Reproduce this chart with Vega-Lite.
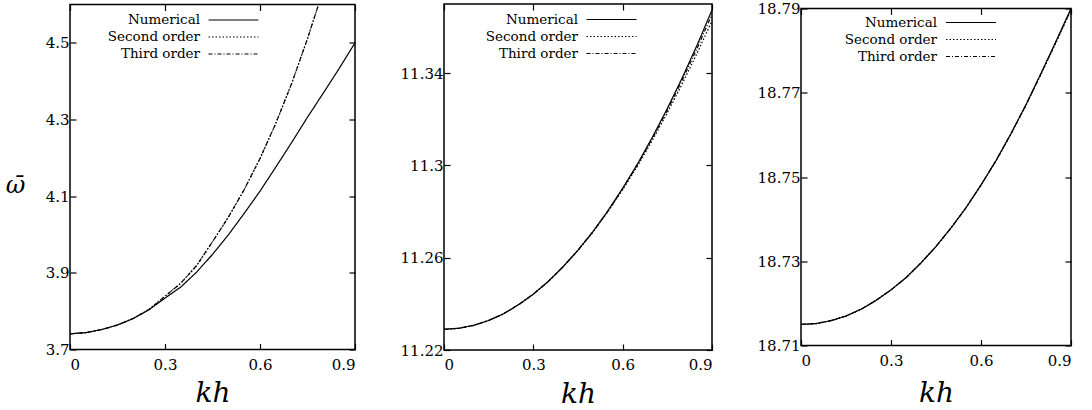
{
  "$schema": "https://vega.github.io/schema/vega-lite/v6.json",
  "background": "white",
  "padding": {"left": 4, "top": 0, "right": 5, "bottom": 2},
  "spacing": 89,
  "bounds": "flush",
  "center": true,
  "config": {
    "view": {"stroke": "black", "strokeWidth": 1.5},
    "font": "DejaVu Serif",
    "axis": {"grid": false, "domain": false, "tickColor": "black", "tickWidth": 1.2, "tickSize": -6, "labelFont": "DejaVu Serif", "labelFontSize": 15, "labelColor": "black", "titleColor": "black", "labelPadding": 13.5, "minExtent": 0},
    "legend": {"orient": "none", "legendY": 6.5, "title": null, "symbolType": "M-3.162,0H3.162", "symbolSize": 250, "symbolStrokeWidth": 1.2, "symbolStrokeColor": "black", "symbolFillColor": "transparent", "rowPadding": 1, "labelAlign": "right", "labelFont": "DejaVu Serif", "labelFontSize": 13.5, "labelColor": "black", "padding": 0, "labelLimit": 300},
    "line": {"strokeWidth": 1.2, "color": "black", "clip": true}
  },
  "resolve": {"scale": {"x": "independent", "y": "independent", "strokeDash": "independent"}, "legend": {"strokeDash": "independent"}},
  "datasets": {
    "p1": [
      {"series": "Numerical", "kh": 0, "omega": 3.741}, {"series": "Numerical", "kh": 0.05, "omega": 3.744}, {"series": "Numerical", "kh": 0.1, "omega": 3.752}, {"series": "Numerical", "kh": 0.15, "omega": 3.764}, {"series": "Numerical", "kh": 0.2, "omega": 3.781}, {"series": "Numerical", "kh": 0.25, "omega": 3.804}, {"series": "Numerical", "kh": 0.3, "omega": 3.834}, {"series": "Numerical", "kh": 0.35, "omega": 3.863}, {"series": "Numerical", "kh": 0.4, "omega": 3.902}, {"series": "Numerical", "kh": 0.45, "omega": 3.948}, {"series": "Numerical", "kh": 0.5, "omega": 3.999}, {"series": "Numerical", "kh": 0.55, "omega": 4.055}, {"series": "Numerical", "kh": 0.6, "omega": 4.113}, {"series": "Numerical", "kh": 0.65, "omega": 4.176}, {"series": "Numerical", "kh": 0.7, "omega": 4.240}, {"series": "Numerical", "kh": 0.75, "omega": 4.306}, {"series": "Numerical", "kh": 0.8, "omega": 4.369}, {"series": "Numerical", "kh": 0.85, "omega": 4.433}, {"series": "Numerical", "kh": 0.9, "omega": 4.500},
      {"series": "Second order", "kh": 0, "omega": 3.741}, {"series": "Second order", "kh": 0.05, "omega": 3.744}, {"series": "Second order", "kh": 0.1, "omega": 3.752}, {"series": "Second order", "kh": 0.15, "omega": 3.764}, {"series": "Second order", "kh": 0.2, "omega": 3.781}, {"series": "Second order", "kh": 0.25, "omega": 3.805}, {"series": "Second order", "kh": 0.3, "omega": 3.839}, {"series": "Second order", "kh": 0.35, "omega": 3.873}, {"series": "Second order", "kh": 0.4, "omega": 3.919}, {"series": "Second order", "kh": 0.45, "omega": 3.981}, {"series": "Second order", "kh": 0.5, "omega": 4.045}, {"series": "Second order", "kh": 0.55, "omega": 4.117}, {"series": "Second order", "kh": 0.6, "omega": 4.198}, {"series": "Second order", "kh": 0.65, "omega": 4.290}, {"series": "Second order", "kh": 0.7, "omega": 4.394}, {"series": "Second order", "kh": 0.75, "omega": 4.511}, {"series": "Second order", "kh": 0.785, "omega": 4.600},
      {"series": "Third order", "kh": 0, "omega": 3.741}, {"series": "Third order", "kh": 0.05, "omega": 3.744}, {"series": "Third order", "kh": 0.1, "omega": 3.752}, {"series": "Third order", "kh": 0.15, "omega": 3.764}, {"series": "Third order", "kh": 0.2, "omega": 3.781}, {"series": "Third order", "kh": 0.25, "omega": 3.805}, {"series": "Third order", "kh": 0.3, "omega": 3.839}, {"series": "Third order", "kh": 0.35, "omega": 3.873}, {"series": "Third order", "kh": 0.4, "omega": 3.919}, {"series": "Third order", "kh": 0.45, "omega": 3.981}, {"series": "Third order", "kh": 0.5, "omega": 4.045}, {"series": "Third order", "kh": 0.55, "omega": 4.117}, {"series": "Third order", "kh": 0.6, "omega": 4.198}, {"series": "Third order", "kh": 0.65, "omega": 4.290}, {"series": "Third order", "kh": 0.7, "omega": 4.394}, {"series": "Third order", "kh": 0.75, "omega": 4.511}, {"series": "Third order", "kh": 0.785, "omega": 4.600}
    ],
    "p2": [
      {"series": "Numerical", "kh": 0, "omega": 11.2290}, {"series": "Numerical", "kh": 0.05, "omega": 11.2294}, {"series": "Numerical", "kh": 0.1, "omega": 11.2307}, {"series": "Numerical", "kh": 0.15, "omega": 11.2328}, {"series": "Numerical", "kh": 0.2, "omega": 11.2357}, {"series": "Numerical", "kh": 0.25, "omega": 11.2396}, {"series": "Numerical", "kh": 0.3, "omega": 11.2442}, {"series": "Numerical", "kh": 0.35, "omega": 11.2497}, {"series": "Numerical", "kh": 0.4, "omega": 11.2561}, {"series": "Numerical", "kh": 0.45, "omega": 11.2633}, {"series": "Numerical", "kh": 0.5, "omega": 11.2713}, {"series": "Numerical", "kh": 0.55, "omega": 11.2803}, {"series": "Numerical", "kh": 0.6, "omega": 11.2901}, {"series": "Numerical", "kh": 0.65, "omega": 11.3007}, {"series": "Numerical", "kh": 0.7, "omega": 11.3123}, {"series": "Numerical", "kh": 0.75, "omega": 11.3247}, {"series": "Numerical", "kh": 0.8, "omega": 11.3380}, {"series": "Numerical", "kh": 0.85, "omega": 11.3522}, {"series": "Numerical", "kh": 0.9, "omega": 11.3674},
      {"series": "Second order", "kh": 0, "omega": 11.2290}, {"series": "Second order", "kh": 0.05, "omega": 11.2294}, {"series": "Second order", "kh": 0.1, "omega": 11.2307}, {"series": "Second order", "kh": 0.15, "omega": 11.2328}, {"series": "Second order", "kh": 0.2, "omega": 11.2357}, {"series": "Second order", "kh": 0.25, "omega": 11.2396}, {"series": "Second order", "kh": 0.3, "omega": 11.2442}, {"series": "Second order", "kh": 0.35, "omega": 11.2497}, {"series": "Second order", "kh": 0.4, "omega": 11.2561}, {"series": "Second order", "kh": 0.45, "omega": 11.2632}, {"series": "Second order", "kh": 0.5, "omega": 11.2710}, {"series": "Second order", "kh": 0.55, "omega": 11.2799}, {"series": "Second order", "kh": 0.6, "omega": 11.2895}, {"series": "Second order", "kh": 0.65, "omega": 11.2998}, {"series": "Second order", "kh": 0.7, "omega": 11.3110}, {"series": "Second order", "kh": 0.75, "omega": 11.3228}, {"series": "Second order", "kh": 0.8, "omega": 11.3354}, {"series": "Second order", "kh": 0.85, "omega": 11.3487}, {"series": "Second order", "kh": 0.9, "omega": 11.3627},
      {"series": "Third order", "kh": 0, "omega": 11.2290}, {"series": "Third order", "kh": 0.05, "omega": 11.2294}, {"series": "Third order", "kh": 0.1, "omega": 11.2307}, {"series": "Third order", "kh": 0.15, "omega": 11.2328}, {"series": "Third order", "kh": 0.2, "omega": 11.2357}, {"series": "Third order", "kh": 0.25, "omega": 11.2396}, {"series": "Third order", "kh": 0.3, "omega": 11.2442}, {"series": "Third order", "kh": 0.35, "omega": 11.2497}, {"series": "Third order", "kh": 0.4, "omega": 11.2561}, {"series": "Third order", "kh": 0.45, "omega": 11.2633}, {"series": "Third order", "kh": 0.5, "omega": 11.2712}, {"series": "Third order", "kh": 0.55, "omega": 11.2801}, {"series": "Third order", "kh": 0.6, "omega": 11.2899}, {"series": "Third order", "kh": 0.65, "omega": 11.3003}, {"series": "Third order", "kh": 0.7, "omega": 11.3118}, {"series": "Third order", "kh": 0.75, "omega": 11.3239}, {"series": "Third order", "kh": 0.8, "omega": 11.3370}, {"series": "Third order", "kh": 0.85, "omega": 11.3508}, {"series": "Third order", "kh": 0.9, "omega": 11.3655}
    ],
    "p3": [
      {"series": "Numerical", "kh": 0, "omega": 18.7150}, {"series": "Numerical", "kh": 0.05, "omega": 18.7152}, {"series": "Numerical", "kh": 0.1, "omega": 18.7159}, {"series": "Numerical", "kh": 0.15, "omega": 18.7170}, {"series": "Numerical", "kh": 0.2, "omega": 18.7186}, {"series": "Numerical", "kh": 0.25, "omega": 18.7207}, {"series": "Numerical", "kh": 0.3, "omega": 18.7232}, {"series": "Numerical", "kh": 0.35, "omega": 18.7261}, {"series": "Numerical", "kh": 0.4, "omega": 18.7296}, {"series": "Numerical", "kh": 0.45, "omega": 18.7335}, {"series": "Numerical", "kh": 0.5, "omega": 18.7379}, {"series": "Numerical", "kh": 0.55, "omega": 18.7427}, {"series": "Numerical", "kh": 0.6, "omega": 18.7481}, {"series": "Numerical", "kh": 0.65, "omega": 18.7539}, {"series": "Numerical", "kh": 0.7, "omega": 18.7603}, {"series": "Numerical", "kh": 0.75, "omega": 18.7672}, {"series": "Numerical", "kh": 0.8, "omega": 18.7746}, {"series": "Numerical", "kh": 0.85, "omega": 18.7822}, {"series": "Numerical", "kh": 0.9, "omega": 18.7900},
      {"series": "Second order", "kh": 0, "omega": 18.7150}, {"series": "Second order", "kh": 0.05, "omega": 18.7152}, {"series": "Second order", "kh": 0.1, "omega": 18.7159}, {"series": "Second order", "kh": 0.15, "omega": 18.7170}, {"series": "Second order", "kh": 0.2, "omega": 18.7186}, {"series": "Second order", "kh": 0.25, "omega": 18.7207}, {"series": "Second order", "kh": 0.3, "omega": 18.7232}, {"series": "Second order", "kh": 0.35, "omega": 18.7261}, {"series": "Second order", "kh": 0.4, "omega": 18.7296}, {"series": "Second order", "kh": 0.45, "omega": 18.7335}, {"series": "Second order", "kh": 0.5, "omega": 18.7379}, {"series": "Second order", "kh": 0.55, "omega": 18.7427}, {"series": "Second order", "kh": 0.6, "omega": 18.7481}, {"series": "Second order", "kh": 0.65, "omega": 18.7538}, {"series": "Second order", "kh": 0.7, "omega": 18.7602}, {"series": "Second order", "kh": 0.75, "omega": 18.7670}, {"series": "Second order", "kh": 0.8, "omega": 18.7744}, {"series": "Second order", "kh": 0.85, "omega": 18.7819}, {"series": "Second order", "kh": 0.9, "omega": 18.7896},
      {"series": "Third order", "kh": 0, "omega": 18.7150}, {"series": "Third order", "kh": 0.05, "omega": 18.7152}, {"series": "Third order", "kh": 0.1, "omega": 18.7159}, {"series": "Third order", "kh": 0.15, "omega": 18.7170}, {"series": "Third order", "kh": 0.2, "omega": 18.7186}, {"series": "Third order", "kh": 0.25, "omega": 18.7207}, {"series": "Third order", "kh": 0.3, "omega": 18.7232}, {"series": "Third order", "kh": 0.35, "omega": 18.7261}, {"series": "Third order", "kh": 0.4, "omega": 18.7296}, {"series": "Third order", "kh": 0.45, "omega": 18.7335}, {"series": "Third order", "kh": 0.5, "omega": 18.7379}, {"series": "Third order", "kh": 0.55, "omega": 18.7427}, {"series": "Third order", "kh": 0.6, "omega": 18.7481}, {"series": "Third order", "kh": 0.65, "omega": 18.7539}, {"series": "Third order", "kh": 0.7, "omega": 18.7603}, {"series": "Third order", "kh": 0.75, "omega": 18.7671}, {"series": "Third order", "kh": 0.8, "omega": 18.7745}, {"series": "Third order", "kh": 0.85, "omega": 18.7821}, {"series": "Third order", "kh": 0.9, "omega": 18.7898}
    ]
  },
  "hconcat": [
    {
      "width": 285, "height": 345,
      "data": {"name": "p1"},
      "resolve": {"axis": {"x": "independent", "y": "independent"}},
      "layer": [
        {
          "mark": {"type": "line", "clip": true},
          "encoding": {
            "x": {"field": "kh", "type": "quantitative", "scale": {"domain": [0, 0.9], "nice": false, "zero": false}, "axis": {"values": [0, 0.3, 0.6, 0.9], "format": "~g", "title": "kh", "titleFont": "DejaVu Serif", "titleFontStyle": "italic", "titleFontWeight": "normal", "titleFontSize": 28, "titleBaseline": "alphabetic", "titleY": 52}},
            "y": {"field": "omega", "type": "quantitative", "scale": {"domain": [3.7, 4.6], "nice": false, "zero": false}, "axis": {"values": [3.7, 3.9, 4.1, 4.3, 4.5], "format": "~g", "labelPadding": 7, "title": "ω̄", "titleAngle": 0, "titleAlign": "center", "titleBaseline": "middle", "titleX": -55, "titleY": 181, "titleFont": "DejaVu Serif", "titleFontStyle": "italic", "titleFontWeight": "normal", "titleFontSize": 24}},
            "strokeDash": {"field": "series", "type": "nominal", "scale": {"domain": ["Numerical", "Second order", "Third order"], "range": [[1, 0], [1.5, 2], [4, 2, 1, 2]]}, "legend": {"legendX": 154.5, "labelOffset": -42.5}}
          }
        },
        {
          "mark": {"type": "line", "strokeOpacity": 0},
          "encoding": {
            "x": {"field": "kh", "type": "quantitative", "scale": {"domain": [0, 0.9], "nice": false, "zero": false}, "axis": {"orient": "top", "values": [0, 0.3, 0.6, 0.9], "labels": false, "title": null}},
            "y": {"field": "omega", "type": "quantitative", "scale": {"domain": [3.7, 4.6], "nice": false, "zero": false}, "axis": {"orient": "right", "values": [3.7, 3.9, 4.1, 4.3, 4.5], "labels": false, "title": null}},
            "detail": {"field": "series", "type": "nominal"}
          }
        }
      ]
    },
    {
      "width": 268, "height": 346,
      "data": {"name": "p2"},
      "resolve": {"axis": {"x": "independent", "y": "independent"}},
      "layer": [
        {
          "mark": {"type": "line", "clip": true},
          "encoding": {
            "x": {"field": "kh", "type": "quantitative", "scale": {"domain": [0, 0.9], "nice": false, "zero": false}, "axis": {"values": [0, 0.3, 0.6, 0.9], "format": "~g", "title": "kh", "titleFont": "DejaVu Serif", "titleFontStyle": "italic", "titleFontWeight": "normal", "titleFontSize": 28, "titleBaseline": "alphabetic", "titleY": 52}},
            "y": {"field": "omega", "type": "quantitative", "scale": {"domain": [11.22, 11.37], "nice": false, "zero": false}, "axis": {"values": [11.22, 11.26, 11.3, 11.34], "format": "~g", "labelPadding": 7, "title": null}},
            "strokeDash": {"field": "series", "type": "nominal", "scale": {"domain": ["Numerical", "Second order", "Third order"], "range": [[1, 0], [1.5, 2], [4, 2, 1, 2]]}, "legend": {"legendX": 158.5, "labelOffset": -42.5}}
          }
        },
        {
          "mark": {"type": "line", "strokeOpacity": 0},
          "encoding": {
            "x": {"field": "kh", "type": "quantitative", "scale": {"domain": [0, 0.9], "nice": false, "zero": false}, "axis": {"orient": "top", "values": [0, 0.3, 0.6, 0.9], "labels": false, "title": null}},
            "y": {"field": "omega", "type": "quantitative", "scale": {"domain": [11.22, 11.37], "nice": false, "zero": false}, "axis": {"orient": "right", "values": [11.22, 11.26, 11.3, 11.34], "labels": false, "title": null}},
            "detail": {"field": "series", "type": "nominal"}
          }
        }
      ]
    },
    {
      "width": 270, "height": 337,
      "data": {"name": "p3"},
      "resolve": {"axis": {"x": "independent", "y": "independent"}},
      "layer": [
        {
          "mark": {"type": "line", "clip": true},
          "encoding": {
            "x": {"field": "kh", "type": "quantitative", "scale": {"domain": [0, 0.9], "nice": false, "zero": false}, "axis": {"values": [0, 0.3, 0.6, 0.9], "format": "~g", "title": "kh", "titleFont": "DejaVu Serif", "titleFontStyle": "italic", "titleFontWeight": "normal", "titleFontSize": 28, "titleBaseline": "alphabetic", "titleY": 55.5}},
            "y": {"field": "omega", "type": "quantitative", "scale": {"domain": [18.71, 18.79], "nice": false, "zero": false}, "axis": {"values": [18.71, 18.73, 18.75, 18.77, 18.79], "format": "~g", "labelPadding": 7, "title": null}},
            "strokeDash": {"field": "series", "type": "nominal", "scale": {"domain": ["Numerical", "Second order", "Third order"], "range": [[1, 0], [1.5, 2], [4, 2, 1, 2]]}, "legend": {"legendX": 161, "labelOffset": -43, "legendY": 5}}
          }
        },
        {
          "mark": {"type": "line", "strokeOpacity": 0},
          "encoding": {
            "x": {"field": "kh", "type": "quantitative", "scale": {"domain": [0, 0.9], "nice": false, "zero": false}, "axis": {"orient": "top", "values": [0, 0.3, 0.6, 0.9], "labels": false, "title": null}},
            "y": {"field": "omega", "type": "quantitative", "scale": {"domain": [18.71, 18.79], "nice": false, "zero": false}, "axis": {"orient": "right", "values": [18.71, 18.73, 18.75, 18.77, 18.79], "labels": false, "title": null}},
            "detail": {"field": "series", "type": "nominal"}
          }
        }
      ]
    }
  ]
}
